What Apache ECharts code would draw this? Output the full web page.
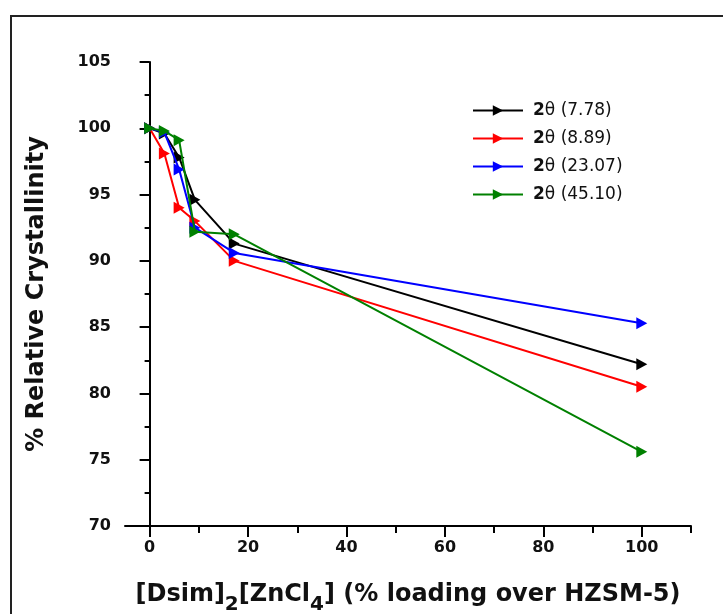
<!DOCTYPE html>
<html>
<head>
<meta charset="utf-8">
<script src="https://cdn.jsdelivr.net/npm/echarts@6/dist/echarts.min.js"></script>
<style>
html,body{margin:0;padding:0;background:#fff;}
#chart{width:723px;height:614px;}
</style>
</head>
<body>
<div id="chart"></div>
<script>
const loadings = [0, 3, 6, 9.2, 17.2, 100];
const seriesNames = ['2θ (7.78)', '2θ (8.89)', '2θ (23.07)', '2θ (45.10)'];
const cryst_778 = [100, 99.6, 97.8, 94.6, 91.3, 82.2];
const cryst_889 = [100, 98.1, 94.0, 93.0, 90.0, 80.5];
const cryst_2307 = [100, 99.7, 96.9, 92.5, 90.6, 85.3];
const cryst_4510 = [100, 99.8, 99.1, 92.2, 92.0, 75.6];
const xMajorTicks = [0, 20, 40, 60, 80, 100];
const xMinorTicks = [10, 30, 50, 70, 90, 110];
const seriesColors = ['#000000', '#ff0000', '#0000ff', '#008000'];

const allValues = [cryst_778, cryst_889, cryst_2307, cryst_4510];
const FONT = 'DejaVu Sans';
const tri = 'path://M0,0L10,5.5L0,11Z';

const chart = echarts.init(document.getElementById('chart'));
const baseX = {
  type: 'value', min: -5, max: 110, gridIndex: 0,
  splitLine: {show: false}
};
chart.setOption({
  animation: false,
  backgroundColor: '#ffffff',
  graphic: [{
    type: 'rect', silent: true, z: 0,
    shape: {x: 11, y: 16, width: 900, height: 800},
    style: {fill: 'none', stroke: '#222', lineWidth: 2}
  }],
  grid: {left: 125, right: 32, top: 62, bottom: 88, containLabel: false, outerBoundsMode: 'none'},
  legend: {
    orient: 'vertical', left: 472, top: 102, padding: 0,
    itemWidth: 50, itemHeight: 13, itemGap: 11,
    data: seriesNames,
    formatter: function (name) { return '{b|2}{n|' + name.slice(1) + '}'; },
    textStyle: {
      padding: [0, 0, 0, 5],
      rich: {
        b: {fontFamily: FONT, fontWeight: 'bold', fontSize: 17, color: '#111', lineHeight: 18},
        n: {fontFamily: FONT, fontWeight: 'normal', fontSize: 17, color: '#111', lineHeight: 18}
      }
    }
  },
  xAxis: [
    Object.assign({}, baseX, {
      position: 'bottom',
      name: '{m|[Dsim]}{s|2}{m|[ZnCl}{s|4}{m|] (% loading over HZSM-5)}',
      nameLocation: 'middle', nameGap: 57,
      nameTextStyle: {
        fontFamily: FONT, fontWeight: 'bold', fontSize: 24, color: '#111',
        verticalAlign: 'top',
        rich: {
          m: {fontFamily: FONT, fontWeight: 'bold', fontSize: 24, color: '#111', verticalAlign: 'top', padding: [0, 0, 0, 0]},
          s: {fontFamily: FONT, fontWeight: 'bold', fontSize: 20, color: '#111', verticalAlign: 'top', padding: [12, 0, 0, 0]}
        }
      },
      axisLine: {show: true, lineStyle: {color: '#000', width: 2}},
      axisTick: {show: true, inside: false, length: 11, lineStyle: {width: 2, color: '#000'}, customValues: xMajorTicks},
      axisLabel: {show: true, margin: 14, customValues: xMajorTicks, fontFamily: FONT, fontWeight: 'bold', fontSize: 16, color: '#111'}
    }),
    Object.assign({}, baseX, {
      position: 'bottom',
      axisLine: {show: false},
      axisTick: {show: true, inside: false, length: 7, lineStyle: {width: 2, color: '#000'}, customValues: xMinorTicks},
      axisLabel: {show: false}
    })
  ],
  yAxis: {
    type: 'value', min: 70, max: 105, interval: 5,
    name: '% Relative Crystallinity', nameLocation: 'middle', nameGap: 76, nameRotate: 90,
    nameTextStyle: {fontFamily: FONT, fontWeight: 'bold', fontSize: 24, color: '#111'},
    axisLine: {show: true, lineStyle: {color: '#000', width: 2}},
    axisTick: {show: true, inside: false, length: 10, lineStyle: {width: 2, color: '#000'}},
    minorTick: {show: true, splitNumber: 2, length: 5, lineStyle: {width: 2, color: '#000'}},
    splitLine: {show: false},
    axisLabel: {margin: 14, fontFamily: FONT, fontWeight: 'bold', fontSize: 16, color: '#111'}
  },
  series: seriesNames.map(function (nm, i) {
    return {
      name: nm, type: 'line', xAxisIndex: 0,
      data: loadings.map(function (x, j) { return [x, allValues[i][j]]; }),
      symbol: tri, symbolSize: [11, 12], showSymbol: true,
      lineStyle: {color: seriesColors[i], width: 2},
      itemStyle: {color: seriesColors[i]},
      z: 2 + i
    };
  })
});
</script>
</body>
</html>
